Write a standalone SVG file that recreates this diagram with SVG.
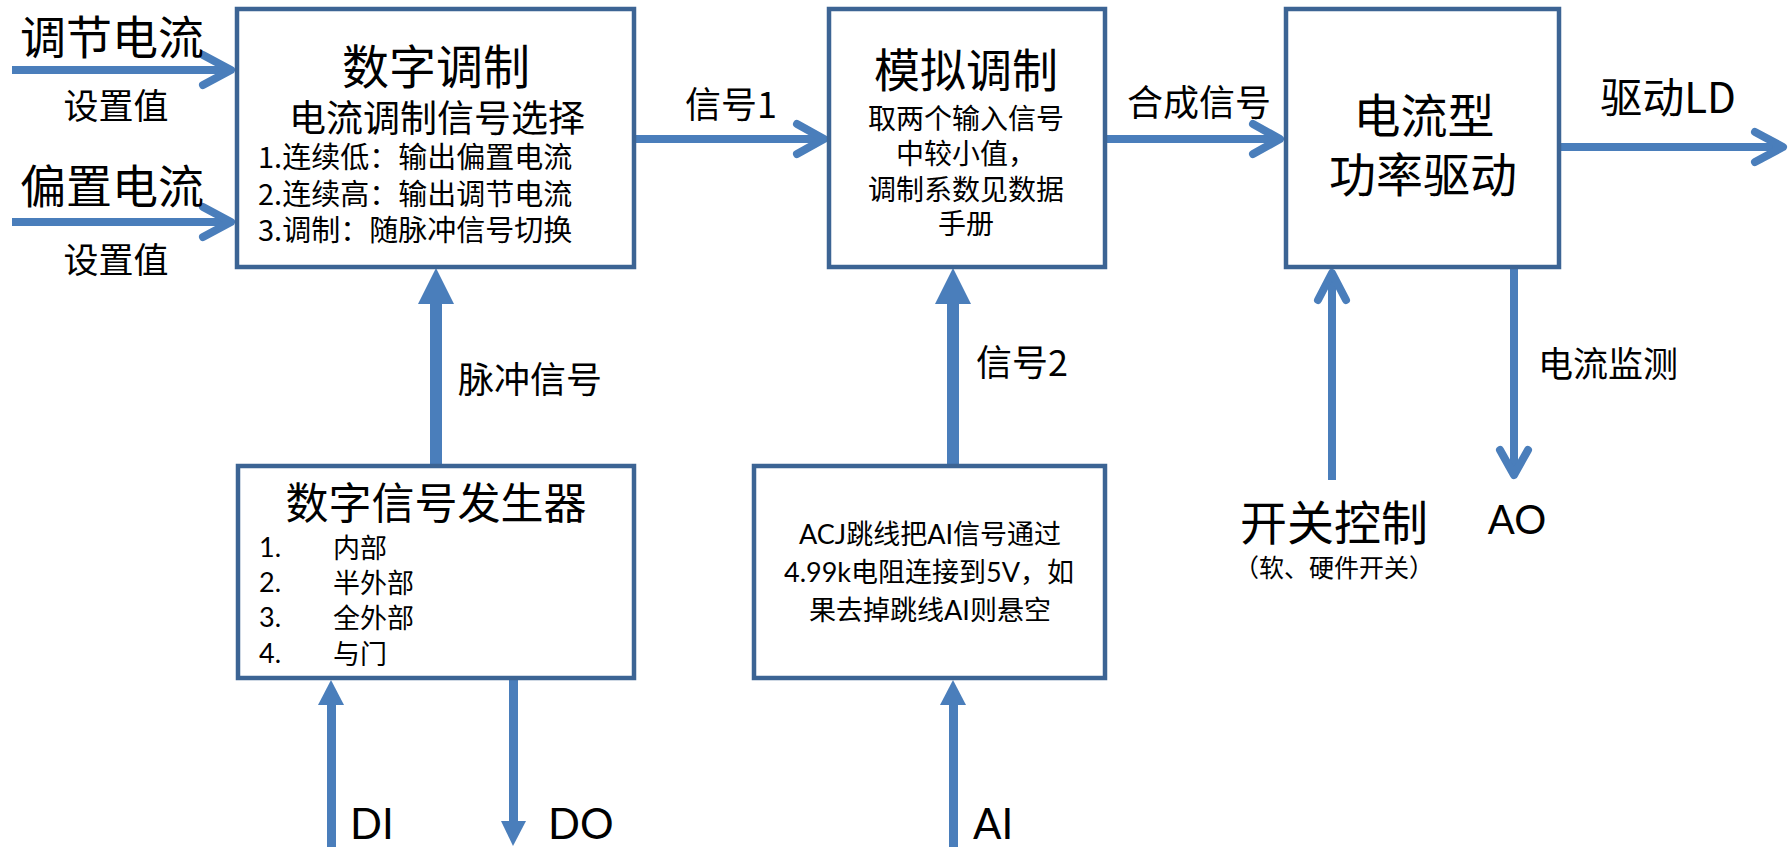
<svg xmlns="http://www.w3.org/2000/svg" width="1792" height="847" viewBox="0 0 1792 847">
<style>
.box{fill:#fff;stroke:#3c6494;stroke-width:4.5}
.ln{stroke:#4a7ebb;stroke-width:8;fill:none}
.chev{stroke:#4a7ebb;stroke-width:8;fill:none;stroke-linecap:round;stroke-linejoin:round}
.hd{fill:#4a7ebb}
text{font-family:"Noto Sans CJK SC",sans-serif;fill:#000;dominant-baseline:central}
.lat{font-family:Lato,"Noto Sans CJK SC",sans-serif}
.m{text-anchor:middle}
</style>
<rect width="1792" height="847" fill="#fff"/>
<g id="connectors">
  <line class="ln" x1="12" y1="70" x2="230" y2="70"/>
  <polyline class="chev" points="203,55 231,70 203,85"/>
  <line class="ln" x1="12" y1="222" x2="230" y2="222"/>
  <polyline class="chev" points="203,207 231,222 203,237"/>
  <line class="ln" x1="634" y1="139" x2="823" y2="139"/>
  <polyline class="chev" points="797,124 824,139 797,154"/>
  <line class="ln" x1="1105" y1="139" x2="1279" y2="139"/>
  <polyline class="chev" points="1253,124 1280,139 1253,154"/>
  <line class="ln" x1="1559" y1="147" x2="1782" y2="147"/>
  <polyline class="chev" points="1755,132 1783,147 1755,162"/>
  <rect class="hd" x="430" y="302" width="12" height="164"/>
  <polygon class="hd" points="436,268 418,304 454,304"/>
  <rect class="hd" x="947" y="302" width="12" height="164"/>
  <polygon class="hd" points="953,268 935,304 971,304"/>
  <line class="ln" x1="1332" y1="480" x2="1332" y2="274"/>
  <polyline class="chev" points="1318,300 1332,273 1346,300"/>
  <line class="ln" x1="1514" y1="267" x2="1514" y2="472"/>
  <polyline class="chev" points="1500,450 1514,475 1528,450"/>
  <rect class="hd" x="327" y="703" width="9" height="144"/>
  <polygon class="hd" points="331,680 318,705 344,705"/>
  <rect class="hd" x="509" y="678" width="9" height="144"/>
  <polygon class="hd" points="501,821 526,821 513,846"/>
  <rect class="hd" x="949" y="703" width="9" height="144"/>
  <polygon class="hd" points="953,680 940,705 966,705"/>
</g>
<g id="labels">
  <text class="m" x="112" y="34" font-size="46">调节电流</text>
  <text class="m" x="116" y="103" font-size="35">设置值</text>
  <text class="m" x="112" y="183" font-size="46">偏置电流</text>
  <text class="m" x="116" y="257" font-size="35">设置值</text>
  <text class="m" x="731" y="102" font-size="36">信号1</text>
  <text class="m" x="1199" y="100" font-size="36">合成信号</text>
  <text class="m" x="1668" y="94" font-size="42">驱动LD</text>
  <text x="458" y="377" font-size="36">脉冲信号</text>
  <text x="976" y="360" font-size="36">信号2</text>
  <text x="1538" y="361" font-size="35">电流监测</text>
  <text class="m" x="1334" y="519" font-size="47">开关控制</text>
  <text class="m" x="1334" y="566" font-size="25">（软、硬件开关）</text>
  <text class="m lat" x="1517" y="519" font-size="40">AO</text>
  <text class="lat" x="350" y="823" font-size="42">DI</text>
  <text class="lat" x="548" y="823" font-size="42">DO</text>
  <text class="lat" x="973" y="823" font-size="42">AI</text>
</g>
<g id="digital-mod">
  <rect class="box" x="237" y="9" width="397" height="258"/>
  <text class="m" x="436" y="63" font-size="47">数字调制</text>
  <text class="m" x="437" y="116" font-size="37">电流调制信号选择</text>
  <text x="258" y="155" font-size="29">1.连续低：输出偏置电流</text>
  <text x="258" y="192" font-size="29">2.连续高：输出调节电流</text>
  <text x="258" y="228" font-size="29">3.调制：随脉冲信号切换</text>
</g>
<g id="analog-mod">
  <rect class="box" x="829" y="9" width="276" height="258"/>
  <text class="m" x="966" y="67" font-size="46">模拟调制</text>
  <text class="m" x="966" y="117" font-size="28">取两个输入信号</text>
  <text class="m" x="966" y="152" font-size="28">中较小值，</text>
  <text class="m" x="966" y="188" font-size="28">调制系数见数据</text>
  <text class="m" x="966" y="222" font-size="28">手册</text>
</g>
<g id="power-drive">
  <rect class="box" x="1286" y="9" width="273" height="258"/>
  <text class="m" x="1424" y="112" font-size="47">电流型</text>
  <text class="m" x="1423" y="171" font-size="47">功率驱动</text>
</g>
<g id="dsg">
  <rect class="box" x="238" y="466" width="396" height="212"/>
  <text class="m" x="436" y="500" font-size="43">数字信号发生器</text>
  <text class="lat" x="259" y="546" font-size="27">1.</text>
  <text x="333" y="546" font-size="27">内部</text>
  <text class="lat" x="259" y="581" font-size="27">2.</text>
  <text x="333" y="581" font-size="27">半外部</text>
  <text class="lat" x="259" y="616" font-size="27">3.</text>
  <text x="333" y="616" font-size="27">全外部</text>
  <text class="lat" x="259" y="652" font-size="27">4.</text>
  <text x="333" y="652" font-size="27">与门</text>
</g>
<g id="acj">
  <rect class="box" x="754" y="466" width="351" height="212"/>
  <text class="m lat" x="930" y="533" font-size="27">ACJ跳线把AI信号通过</text>
  <text class="m lat" x="929" y="571" font-size="27">4.99k电阻连接到5V，如</text>
  <text class="m lat" x="930" y="609" font-size="27">果去掉跳线AI则悬空</text>
</g>
</svg>
